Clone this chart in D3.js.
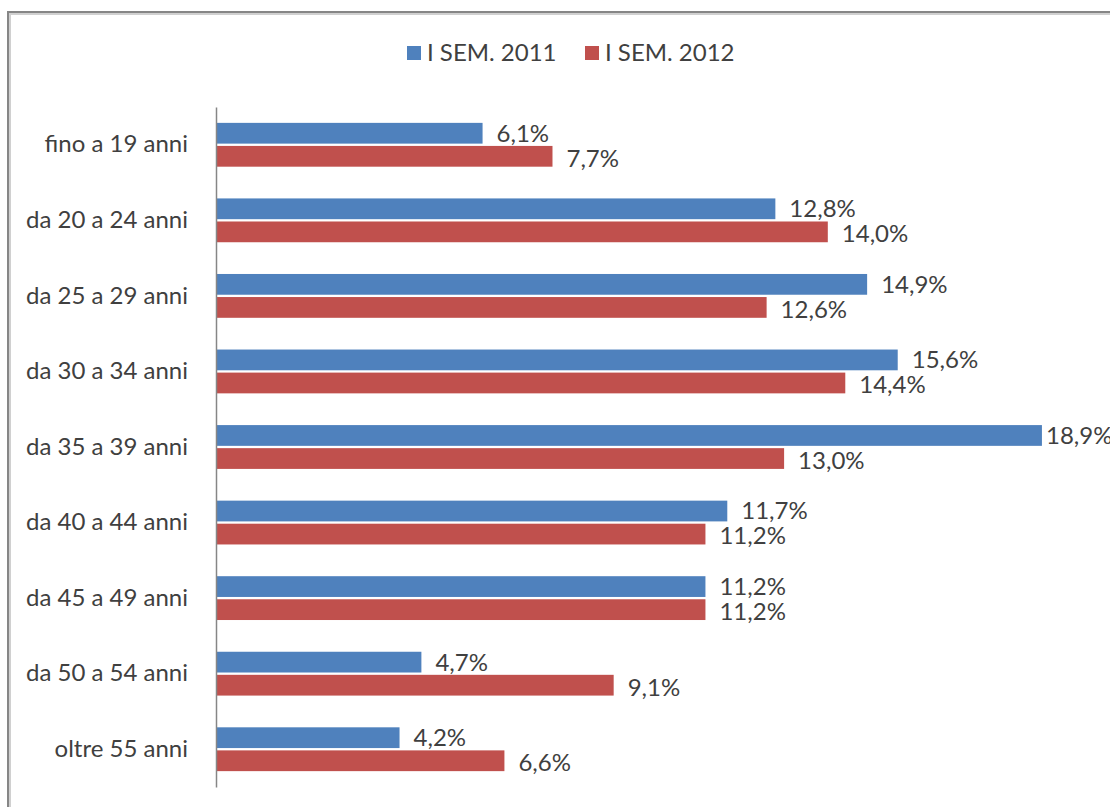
<!DOCTYPE html>
<html>
<head>
<meta charset="utf-8">
<script src="https://cdn.jsdelivr.net/npm/d3@7"></script>
<style>
  body { margin: 0; background: #fff; }
  text { font-family: Lato, "Liberation Sans", sans-serif; fill: #404040; }
</style>
</head>
<body>
<div id="chart"></div>
<script>
// data
let categories = ["fino a 19 anni", "da 20 a 24 anni", "da 25 a 29 anni", "da 30 a 34 anni",
  "da 35 a 39 anni", "da 40 a 44 anni", "da 45 a 49 anni", "da 50 a 54 anni", "oltre 55 anni"]
let seriesNames = ["I SEM. 2011", "I SEM. 2012"]
let values2011 = [6.1, 12.8, 14.9, 15.6, 18.9, 11.7, 11.2, 4.7, 4.2]
let values2012 = [7.7, 14.0, 12.6, 14.4, 13.0, 11.2, 11.2, 9.1, 6.6]
let colors = ["#4F81BD", "#C0504D"]

let svgWidth = 1110
let svgHeight = 807
let fontSize = 24

let svg = d3.select("#chart").append("svg")
  .attr("width", svgWidth).attr("height", svgHeight)

// outer frame (only top and left are visible in the picture)
svg.append("path")
  .attr("d", `M9,${svgHeight} V13 H${svgWidth}`)
  .attr("fill", "none").attr("stroke", "#d0d0d0").attr("stroke-width", 4)
svg.append("path")
  .attr("d", `M8,${svgHeight} V12 H${svgWidth}`)
  .attr("fill", "none").attr("stroke", "#868686").attr("stroke-width", 2)

let x = d3.scaleLinear().domain([0, 20]).range([216, 1090])

let y = d3.scaleBand().domain(categories).range([107, 787])
  .paddingInner(0.42).paddingOuter(0.21)

let ySeries = d3.scaleBand().domain(seriesNames).range([0, y.bandwidth()]).paddingInner(0.1)

let rows = categories.map((c, i) => ({ cat: c, vals: [values2011[i], values2012[i]] }))

let groups = svg.selectAll(".grp").data(rows).enter().append("g")
  .attr("class", "grp")
  .attr("transform", d => `translate(0,${y(d.cat)})`)

groups.selectAll("rect").data(d => d.vals.map((v, j) => ({ v: v, s: seriesNames[j], j: j })))
  .enter().append("rect")
  .attr("x", x(0))
  .attr("y", d => ySeries(d.s))
  .attr("width", d => x(d.v) - x(0))
  .attr("height", ySeries.bandwidth())
  .attr("fill", d => colors[d.j])

// value labels, the longest one is pushed against the right edge like in Excel
groups.selectAll(".lbl").data(d => d.vals.map((v, j) => ({ v: v, s: seriesNames[j], j: j })))
  .enter().append("text")
  .attr("class", "lbl")
  .attr("x", d => Math.min(x(d.v) + 14, 1046))
  .attr("y", d => ySeries(d.s) + ySeries.bandwidth() / 2 + (d.j == 0 ? 0 : 2))
  .attr("dy", "0.35em")
  .attr("font-size", fontSize)
  .text(d => d3.format(".1f")(d.v).replace(".", ",") + "%")

// category axis: plain line, no ticks
let yAxis = svg.append("g")
  .attr("transform", `translate(${x(0)},0)`)
  .call(d3.axisLeft(y).tickSize(0).tickPadding(28))
yAxis.select(".domain").attr("stroke", "#868686").attr("stroke-width", 1.5)
yAxis.selectAll("text").attr("font-size", fontSize)
  .style("font-family", "Lato, 'Liberation Sans', sans-serif").attr("fill", "#404040")

// legend
let legend = svg.append("g")
let legendX = [407, 585]
seriesNames.forEach((s, i) => {
  legend.append("rect")
    .attr("x", legendX[i]).attr("y", 46)
    .attr("width", 14).attr("height", 14)
    .attr("fill", colors[i])
  legend.append("text")
    .attr("x", legendX[i] + 20).attr("y", 53)
    .attr("dy", "0.35em").attr("font-size", fontSize)
    .text(s)
})
</script>
</body>
</html>
